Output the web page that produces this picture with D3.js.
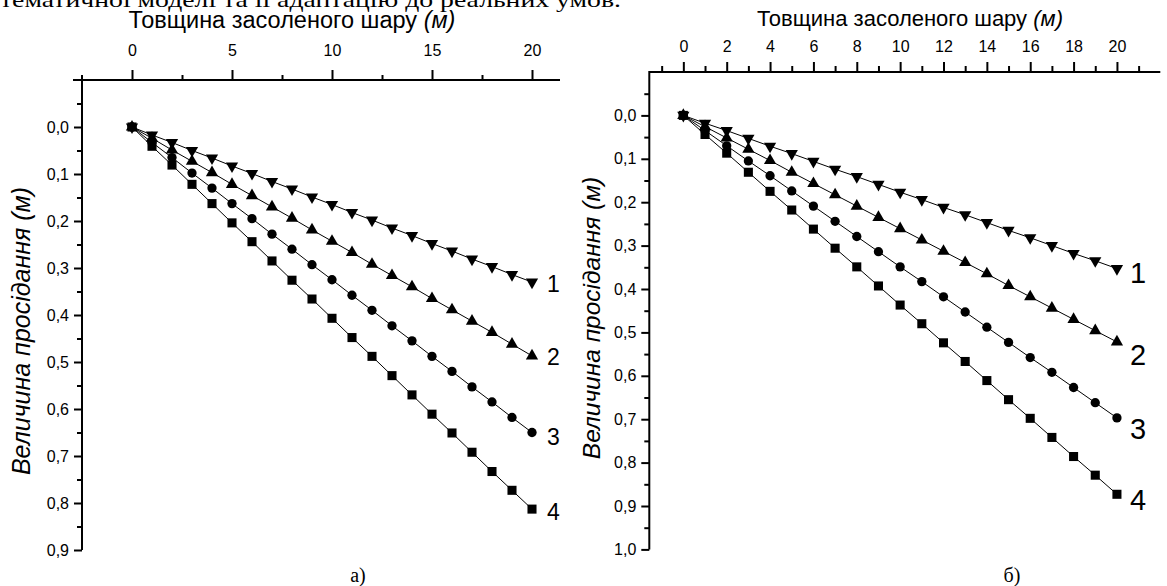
<!DOCTYPE html>
<html>
<head>
<meta charset="utf-8">
<script src="https://cdn.jsdelivr.net/npm/d3@7"></script>
<style>
  body { margin: 0; background: #fff; }
  svg { display: block; }
  text { font-family: "Liberation Sans", Arial, sans-serif; fill: #000; }
  .serif { font-family: "Liberation Serif", "Times New Roman", serif; }
</style>
</head>
<body>
<div id="chart"></div>
<script>
// thickness of salted layer (m), same for both panels
var thickness = [0,1,2,3,4,5,6,7,8,9,10,11,12,13,14,15,16,17,18,19,20];

// panel a) subsidence (m), curves 1..4
var a1 = [0,0.017,0.033,0.050,0.066,0.083,0.099,0.116,0.132,0.149,0.165,0.182,0.198,0.215,0.231,0.248,0.264,0.281,0.297,0.314,0.330];
var a2 = [0,0.024,0.049,0.073,0.097,0.122,0.146,0.170,0.194,0.219,0.243,0.267,0.292,0.316,0.340,0.365,0.389,0.413,0.437,0.462,0.487];
var a3 = [0,0.033,0.065,0.098,0.130,0.163,0.195,0.228,0.260,0.293,0.325,0.358,0.390,0.423,0.455,0.488,0.520,0.553,0.585,0.618,0.650];
var a4 = [0,0.041,0.081,0.122,0.163,0.204,0.244,0.285,0.326,0.366,0.407,0.448,0.488,0.529,0.570,0.611,0.651,0.692,0.733,0.773,0.813];

// panel б) subsidence (m), curves 1..4
var b1 = [0,0.018,0.035,0.053,0.071,0.088,0.106,0.124,0.141,0.159,0.177,0.194,0.212,0.229,0.247,0.265,0.282,0.300,0.318,0.335,0.353];
var b2 = [0,0.026,0.052,0.078,0.104,0.131,0.157,0.183,0.209,0.235,0.261,0.287,0.313,0.339,0.365,0.392,0.418,0.444,0.470,0.496,0.522];
var b3 = [0,0.035,0.070,0.105,0.139,0.174,0.209,0.244,0.279,0.314,0.349,0.383,0.418,0.453,0.488,0.523,0.558,0.592,0.627,0.662,0.697];
var b4 = [0,0.044,0.087,0.131,0.175,0.218,0.262,0.306,0.349,0.393,0.437,0.480,0.524,0.567,0.611,0.655,0.698,0.742,0.786,0.829,0.873];

var curveNames = ["1", "2", "3", "4"];

// ticks
var xTicksA = [0, 5, 10, 15, 20];
var xMinorA = [2.5, 7.5, 12.5, 17.5];
var yTicksA = [0, 0.1, 0.2, 0.3, 0.4, 0.5, 0.6, 0.7, 0.8, 0.9];
var yTickLabelsA = ["0,0", "0,1", "0,2", "0,3", "0,4", "0,5", "0,6", "0,7", "0,8", "0,9"];
var yMinorA = [-0.05, 0.05, 0.15, 0.25, 0.35, 0.45, 0.55, 0.65, 0.75, 0.85];

var xTicksB = [0, 2, 4, 6, 8, 10, 12, 14, 16, 18, 20];
var xMinorB = [-1, 1, 3, 5, 7, 9, 11, 13, 15, 17, 19, 21];
var yTicksB = [0, 0.1, 0.2, 0.3, 0.4, 0.5, 0.6, 0.7, 0.8, 0.9, 1.0];
var yTickLabelsB = ["0,0", "0,1", "0,2", "0,3", "0,4", "0,5", "0,6", "0,7", "0,8", "0,9", "1,0"];
var yMinorB = [-0.05, 0.05, 0.15, 0.25, 0.35, 0.45, 0.55, 0.65, 0.75, 0.85, 0.95];

var xTitle = "Товщина засоленого шару ";
var yTitle = "Величина просідання (м)";

var width = 1167, height = 586;

var svg = d3.select("#chart").append("svg")
    .attr("width", width)
    .attr("height", height);

// cropped line of the surrounding document text
svg.append("text")
    .attr("class", "serif")
    .attr("x", 0)
    .attr("y", 7)
    .attr("font-size", 21)
    .attr("textLength", 621)
    .attr("lengthAdjust", "spacingAndGlyphs")
    .text("тематичної моделі та її адаптацію до реальних умов.");

var symbols = [
    { type: d3.symbolTriangle, size: 65, rotate: 180 },
    { type: d3.symbolTriangle, size: 65, rotate: 0 },
    { type: d3.symbolCircle, size: 68, rotate: 0 },
    { type: d3.symbolSquare, size: 82, rotate: 0 }
];

function drawPanel(cfg) {
    var x = d3.scaleLinear().domain(cfg.xDomain).range(cfg.xRange);
    var y = d3.scaleLinear().domain(cfg.yDomain).range(cfg.yRange);
    var g = svg.append("g");

    // top axis: major ticks with labels
    var topAxis = d3.axisTop(x)
        .tickValues(cfg.xTicks)
        .tickSize(cfg.xMajorLen)
        .tickPadding(cfg.xPad)
        .tickFormat(d3.format("d"));
    var gt = g.append("g")
        .attr("transform", "translate(0," + cfg.yRange[0] + ")")
        .call(topAxis);
    gt.selectAll("text").attr("font-size", cfg.xFont).style("font-family", null);

    g.append("g")
        .attr("transform", "translate(0," + cfg.yRange[0] + ")")
        .call(d3.axisTop(x).tickValues(cfg.xMinor).tickSize(cfg.xMinorLen).tickFormat(""));

    // left axis
    var leftAxis = d3.axisLeft(y)
        .tickValues(cfg.yTicks)
        .tickSize(8)
        .tickPadding(5)
        .tickFormat(function(d, i) { return cfg.yLabels[i]; });
    var gl = g.append("g")
        .attr("transform", "translate(" + cfg.xRange[0] + ",0)")
        .call(leftAxis);
    gl.selectAll("text").attr("font-size", 16).style("font-family", null);

    g.append("g")
        .attr("transform", "translate(" + cfg.xRange[0] + ",0)")
        .call(d3.axisLeft(y).tickValues(cfg.yMinor).tickSize(5).tickFormat(""));

    g.selectAll(".domain").remove();
    g.selectAll(".tick line").attr("stroke", "#000").attr("stroke-width", 2);

    // axis lines
    g.append("line")
        .attr("x1", cfg.topLineStart).attr("x2", cfg.xRange[1])
        .attr("y1", cfg.yRange[0]).attr("y2", cfg.yRange[0])
        .attr("stroke", "#000").attr("stroke-width", 2);
    g.append("line")
        .attr("x1", cfg.xRange[0]).attr("x2", cfg.xRange[0])
        .attr("y1", cfg.leftLineStart).attr("y2", cfg.yRange[1])
        .attr("stroke", "#000").attr("stroke-width", 2);

    // titles
    var tt = g.append("text")
        .attr("x", cfg.xTitlePos[0])
        .attr("y", cfg.xTitlePos[1])
        .attr("text-anchor", "middle")
        .attr("font-size", cfg.xTitleFont);
    tt.append("tspan").text(xTitle);
    tt.append("tspan").attr("font-style", "italic").text("(м)");

    g.append("text")
        .attr("transform", "translate(" + cfg.yTitlePos[0] + "," + cfg.yTitlePos[1] + ") rotate(-90)")
        .attr("text-anchor", "middle")
        .attr("font-style", "italic")
        .attr("font-size", cfg.yTitleFont)
        .text(yTitle);

    // curves
    var line = d3.line()
        .x(function(d) { return x(d.t); })
        .y(function(d) { return y(d.v); });

    cfg.series.forEach(function(vals, k) {
        var pts = thickness.map(function(t, i) { return { t: t, v: vals[i] }; });
        g.append("path")
            .datum(pts)
            .attr("d", line)
            .attr("fill", "none")
            .attr("stroke", "#000")
            .attr("stroke-width", 1);
        var sym = symbols[k];
        g.selectAll(".m" + k)
            .data(pts)
            .enter().append("path")
            .attr("class", "m" + k)
            .attr("d", d3.symbol().type(sym.type).size(sym.size))
            .attr("transform", function(d) {
                return "translate(" + x(d.t) + "," + y(d.v) + ") rotate(" + sym.rotate + ")";
            })
            .attr("fill", "#000");

        var last = pts[pts.length - 1];
        g.append("text")
            .attr("x", x(last.t) + cfg.labelDx)
            .attr("y", y(last.v) + cfg.labelDy[k])
            .attr("font-size", cfg.labelFont)
            .text(curveNames[k]);
    });

    g.append("text")
        .attr("class", "serif")
        .attr("x", cfg.captionPos[0])
        .attr("y", cfg.captionPos[1])
        .attr("text-anchor", "middle")
        .attr("font-size", 20)
        .text(cfg.caption);
}

drawPanel({
    xDomain: [-2.5, 21.4], xRange: [82, 560],
    yDomain: [-0.1, 0.9], yRange: [80, 550],
    xTicks: xTicksA, xMinor: xMinorA,
    yTicks: yTicksA, yLabels: yTickLabelsA, yMinor: yMinorA,
    xMajorLen: 10, xMinorLen: 5, xPad: 14, xFont: 16,
    topLineStart: 73, leftLineStart: 75,
    xTitlePos: [292, 28], xTitleFont: 23.5,
    yTitlePos: [30, 331], yTitleFont: 25,
    series: [a1, a2, a3, a4],
    labelDx: 15, labelDy: [10, 9, 12, 11], labelFont: 23,
    caption: "а)", captionPos: [358, 582]
});

drawPanel({
    xDomain: [-1.57, 22], xRange: [649.3, 1160.3],
    yDomain: [-0.1, 1.0], yRange: [72, 549.4],
    xTicks: xTicksB, xMinor: xMinorB,
    yTicks: yTicksB, yLabels: yTickLabelsB, yMinor: yMinorB,
    xMajorLen: 10, xMinorLen: 6, xPad: 10, xFont: 16,
    topLineStart: 649.3, leftLineStart: 71,
    xTitlePos: [910, 26], xTitleFont: 22,
    yTitlePos: [600, 318], yTitleFont: 24.5,
    series: [b1, b2, b3, b4],
    labelDx: 13, labelDy: [14, 23, 21, 16], labelFont: 29,
    caption: "б)", captionPos: [1012, 582]
});
</script>
</body>
</html>
